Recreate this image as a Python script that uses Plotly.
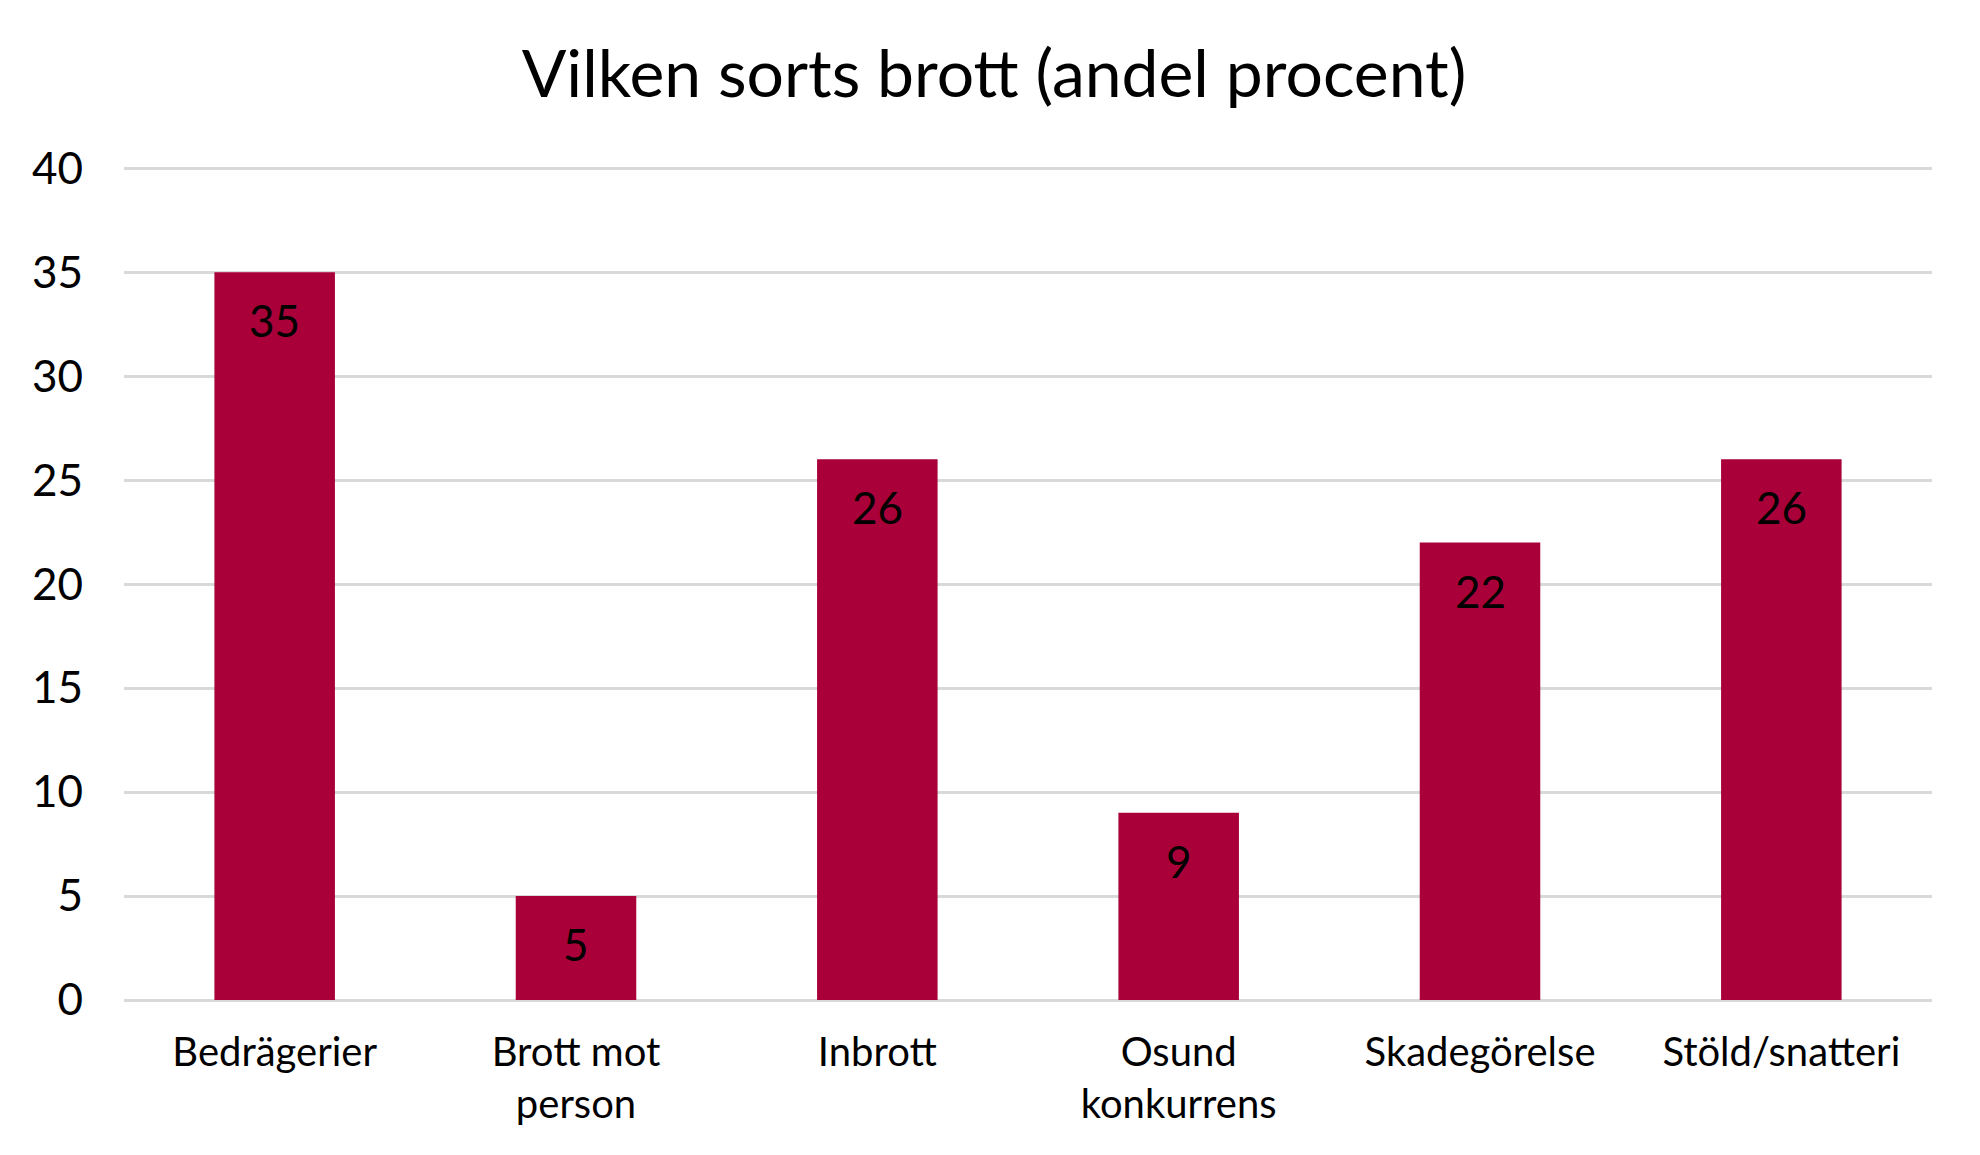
import plotly.graph_objects as go

categories = ["Bedrägerier", "Brott mot<br>person", "Inbrott", "Osund<br>konkurrens", "Skadegörelse", "Stöld/snatteri"]
values = [35, 5, 26, 9, 22, 26]
y_ticks = [0, 5, 10, 15, 20, 25, 30, 35, 40]
title_text = "Vilken sorts brott (andel procent)"

FONT = "Lato"
BAR_COLOR = "#A9003A"
GRID = "#D9D9D9"

fig = go.Figure()
fig.add_trace(go.Bar(
    x=categories, y=values, marker_color=BAR_COLOR, marker_line_width=0,
    width=0.4, hoverinfo="x+y",
))

for c, v in zip(categories, values):
    fig.add_annotation(x=c, y=v, text=str(v), showarrow=False, yanchor="top",
                       yshift=-20, font=dict(family=FONT, size=44, color="#000000"))

# page body has an 8px default margin; compensate so the plot sits where the reference does
fig.update_layout(
    width=1972, height=1147,
    margin=dict(l=116, r=48, t=154, b=155),
    paper_bgcolor="white", plot_bgcolor="white",
    showlegend=False,
    title=dict(text=title_text, x=0.5, xanchor="center", y=1 - 66/1147, yanchor="middle",
               font=dict(family=FONT, size=66, color="#000000")),
    font=dict(family=FONT, color="#000000"),
)
fig.update_yaxes(range=[0, 40.3], tickvals=y_ticks, showgrid=True, gridcolor=GRID, gridwidth=3,
                 zeroline=True, zerolinecolor=GRID, zerolinewidth=3, showline=False,
                 tickfont=dict(family=FONT, size=44, color="#000000"), ticks="", ticklabelstandoff=40)
fig.update_xaxes(showgrid=False, showline=False, ticks="", tickfont=dict(family=FONT, size=40, color="#000000"),
                 ticklabelstandoff=25)

fig.write_html("out.html")
